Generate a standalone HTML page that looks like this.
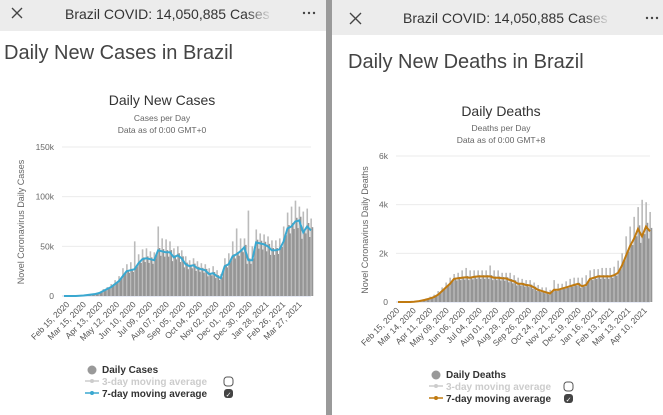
<!DOCTYPE html>
<html><head><meta charset="utf-8"><style>
html,body{margin:0;padding:0;background:#fff;}
svg{display:block;font-family:"Liberation Sans",sans-serif;}
</style></head><body>
<svg id="s" width="663" height="415" viewBox="0 0 663 415">
<defs>
 <linearGradient id="fadeL" x1="0" x2="1"><stop offset="0" stop-color="#ececec" stop-opacity="0"/><stop offset="1" stop-color="#ececec" stop-opacity="1"/></linearGradient>
</defs>
<rect x="0" y="0" width="663" height="415" fill="#fff"/>
<g>
 <rect x="0" y="0" width="326" height="31" fill="#ececec"/>
 <g stroke="#444" stroke-width="1.3"><line x1="12" y1="8" x2="22" y2="18"/><line x1="22" y1="8" x2="12" y2="18"/></g>
 <text x="65" y="19" font-size="14" fill="#333">Brazil COVID: 14,050,885 Cases</text>
 <rect x="245" y="4" width="28" height="22" fill="url(#fadeL)"/>
 <rect x="273" y="4" width="30" height="22" fill="#ececec"/>
 <g fill="#444"><circle cx="304" cy="13" r="1.2"/><circle cx="309" cy="13" r="1.2"/><circle cx="314" cy="13" r="1.2"/></g>
 <text x="4" y="59" font-size="20" fill="#444">Daily New Cases in Brazil</text>
 <text x="162" y="105" font-size="14" fill="#333" text-anchor="middle">Daily New Cases</text>
 <text x="162" y="121" font-size="8.5" fill="#666" text-anchor="middle">Cases per Day</text>
 <text x="162" y="133" font-size="8.5" fill="#666" text-anchor="middle">Data as of 0:00 GMT+0</text>
 <text transform="translate(24,222) rotate(-90)" font-size="9" fill="#666" text-anchor="middle">Novel Coronavirus Daily Cases</text>
 <g id="gL"></g>
 <g>
  <circle cx="92" cy="370" r="4.5" fill="#999"/>
  <text x="102" y="373" font-size="10" font-weight="bold" fill="#333">Daily Cases</text>
  <line x1="85" y1="381" x2="99" y2="381" stroke="#ccc" stroke-width="1.5"/><circle cx="92" cy="381" r="2" fill="#ccc"/>
  <text x="102" y="385" font-size="10" font-weight="bold" fill="#ccc">3-day moving average</text>
  <line x1="85" y1="393" x2="99" y2="393" stroke="#3aa8d0" stroke-width="1.5"/><circle cx="92" cy="393" r="2" fill="#3aa8d0"/>
  <text x="102" y="397" font-size="10" font-weight="bold" fill="#333">7-day moving average</text>
  <rect x="224" y="377" width="9" height="9" rx="3" fill="#fff" stroke="#555"/>
  <rect x="224" y="389" width="9" height="9" rx="3" fill="#444"/>
  <text x="228.5" y="397" font-size="7" fill="#fff" text-anchor="middle">✓</text>
 </g>
</g>
<rect x="326" y="0" width="6" height="415" fill="#9a9a9a"/>
<g>
 <rect x="332" y="0" width="331" height="35" fill="#ececec"/>
 <g stroke="#444" stroke-width="1.3"><line x1="350" y1="13" x2="361" y2="24"/><line x1="361" y1="13" x2="350" y2="24"/></g>
 <text x="403" y="23" font-size="14" fill="#333">Brazil COVID: 14,050,885 Cases</text>
 <rect x="583" y="6" width="28" height="24" fill="url(#fadeL)"/>
 <rect x="611" y="6" width="30" height="24" fill="#ececec"/>
 <g fill="#444"><circle cx="647" cy="18" r="1.2"/><circle cx="652" cy="18" r="1.2"/><circle cx="657" cy="18" r="1.2"/></g>
 <text x="348" y="68" font-size="20" fill="#444">Daily New Deaths in Brazil</text>
 <text x="501" y="116" font-size="14" fill="#333" text-anchor="middle">Daily Deaths</text>
 <text x="501" y="131" font-size="8.5" fill="#666" text-anchor="middle">Deaths per Day</text>
 <text x="501" y="143" font-size="8.5" fill="#666" text-anchor="middle">Data as of 0:00 GMT+8</text>
 <text transform="translate(368,230) rotate(-90)" font-size="9" fill="#666" text-anchor="middle">Novel Coronavirus Daily Deaths</text>
 <g id="gR"></g>
 <g>
  <circle cx="436" cy="375" r="4.5" fill="#999"/>
  <text x="446" y="378" font-size="10" font-weight="bold" fill="#333">Daily Deaths</text>
  <line x1="429" y1="386" x2="443" y2="386" stroke="#ccc" stroke-width="1.5"/><circle cx="436" cy="386" r="2" fill="#ccc"/>
  <text x="446" y="390" font-size="10" font-weight="bold" fill="#ccc">3-day moving average</text>
  <line x1="429" y1="398" x2="443" y2="398" stroke="#c07a10" stroke-width="1.5"/><circle cx="436" cy="398" r="2" fill="#c07a10"/>
  <text x="446" y="402" font-size="10" font-weight="bold" fill="#333">7-day moving average</text>
  <rect x="564" y="382" width="9" height="9" rx="3" fill="#fff" stroke="#555"/>
  <rect x="564" y="394" width="9" height="9" rx="3" fill="#444"/>
  <text x="568.5" y="402" font-size="7" fill="#fff" text-anchor="middle">✓</text>
 </g>
</g>
</svg>
<script>
// Cases chart data (weekly, thousands)
const casesAvg=[0,0,0,0,0.3,0.5,1,1.5,2,3,5,7,9,12,15,20,25,26,27,33,37,38,37,36,46,45,44,44,39,41,38,32,30,31,28,27,26,22,23,20,18,30,32,40,42,45,49,36,36,54,53,52,50,46,46,47,55,68,70,75,76,64,70,66];
const casesPeak=[0,0,0,0,0.5,1,1.5,2.5,3,4,7,9,12,16,20,28,32,34,55,42,47,48,45,44,70,58,57,55,48,50,46,40,36,38,35,33,32,28,30,26,22,38,43,55,68,58,58,86,50,67,63,62,60,56,56,58,70,84,90,96,90,85,88,78];
const casesTicks=[0,50,100,150];
const casesTickLabels=["0","50k","100k","150k"];
const casesDates=["Feb 15, 2020","Mar 15, 2020","Apr 13, 2020","May 12, 2020","Jun 10, 2020","Jul 09, 2020","Aug 07, 2020","Sep 05, 2020","Oct 04, 2020","Nov 02, 2020","Dec 01, 2020","Dec 30, 2020","Jan 28, 2021","Feb 26, 2021","Mar 27, 2021"];
// Deaths chart data (weekly, thousands)
const deathsAvg=[0,0,0,0,0.01,0.03,0.06,0.1,0.15,0.2,0.3,0.45,0.6,0.75,0.95,0.98,1.0,1.02,1.0,1.03,1.05,1.05,1.05,1.05,1.0,1.0,0.98,0.97,0.9,0.85,0.75,0.75,0.7,0.68,0.6,0.5,0.45,0.4,0.35,0.5,0.5,0.55,0.6,0.65,0.7,0.75,0.65,0.7,0.95,1.0,1.05,1.05,1.05,1.05,1.1,1.2,1.5,1.9,2.3,2.6,3.0,2.7,3.1,2.9];
const deathsPeak=[0,0,0,0,0.02,0.05,0.1,0.15,0.22,0.3,0.45,0.6,0.8,1.0,1.15,1.2,1.3,1.4,1.3,1.3,1.3,1.3,1.3,1.5,1.3,1.3,1.2,1.2,1.2,1.1,1.0,0.95,0.9,0.9,0.8,0.7,0.6,0.6,0.5,0.9,0.75,0.75,0.85,0.95,1.0,1.0,1.0,1.1,1.3,1.35,1.35,1.4,1.4,1.4,1.45,1.7,2.0,2.7,3.1,3.5,3.9,4.2,4.1,3.7];
const deathsTicks=[0,2,4,6];
const deathsTickLabels=["0","2k","4k","6k"];
const deathsDates=["Feb 15, 2020","Mar 14, 2020","Apr 11, 2020","May 09, 2020","Jun 06, 2020","Jul 04, 2020","Aug 01, 2020","Aug 29, 2020","Sep 26, 2020","Oct 24, 2020","Nov 21, 2020","Dec 19, 2020","Jan 16, 2021","Feb 13, 2021","Mar 13, 2021","Apr 10, 2021"];

const NS="http://www.w3.org/2000/svg";
function mk(p,t,a){const e=document.createElementNS(NS,t);for(const k in a)e.setAttribute(k,a[k]);p.appendChild(e);return e;}

function draw(g,cfg){
 const {x0,x1,y0,yTop,max,avg,peak,ticks,tickLabels,dates,dateStep,dateStart,color,prefix}=cfg;
 const ys=v=>y0-(v/max)*(y0-yTop);
 const n=avg.length;
 const xs=i=>x0+i/(n-1)*(x1-x0);
 ticks.forEach((t,i)=>{
  const gl=mk(g,'line',{x1:x0-2,x2:x1,y1:ys(t),y2:ys(t),stroke:i?'#ebebeb':'#ccd6eb','stroke-width':1});
  
  
  const tl=mk(g,'text',{x:x0-10,y:ys(t)+3,'font-size':8.5,fill:'#666','text-anchor':'end'});
  tl.textContent=tickLabels[i];
  
  
 });
 const w=(x1-x0)/(n-1);
 for(let i=0;i<n;i++){
  const xc=xs(i);
  for(let k=0;k<3;k++){
   const v=k==1?peak[i]:avg[i]*(k==0?0.9:1.05);
   const b=mk(g,'rect',{x:xc-w/2+k*w/3,y:ys(v),width:w/3+0.3,height:y0-ys(v),fill:k==1?'#bbb':'#959595'});
   
   
  }
 }
 let d='';
 for(let i=0;i<n;i++)d+=(i?'L':'M')+xs(i).toFixed(1)+','+ys(avg[i]).toFixed(1);
 const ln=mk(g,'path',{d:d,fill:'none',stroke:color,'stroke-width':2});
 
 
 dates.forEach((s,i)=>{
  const dx=dateStart+i*dateStep;
  const t=mk(g,'text',{transform:`translate(${dx},${y0+9}) rotate(-45)`,'font-size':8.5,fill:'#555','text-anchor':'end'});
  t.textContent=s;
  
  
 });
}
draw(document.getElementById('gL'),{x0:64,x1:311,y0:296,yTop:147,max:150,avg:casesAvg,peak:casesPeak,ticks:casesTicks,tickLabels:casesTickLabels,dates:casesDates,dateStep:16.6,dateStart:70,color:'#3aa8d0',prefix:'cases'});
draw(document.getElementById('gR'),{x0:398,x1:650,y0:302,yTop:156,max:6,avg:deathsAvg,peak:deathsPeak,ticks:deathsTicks,tickLabels:deathsTickLabels,dates:deathsDates,dateStep:16.5,dateStart:400,color:'#c07a10',prefix:'deaths'});
</script>
</body></html>
